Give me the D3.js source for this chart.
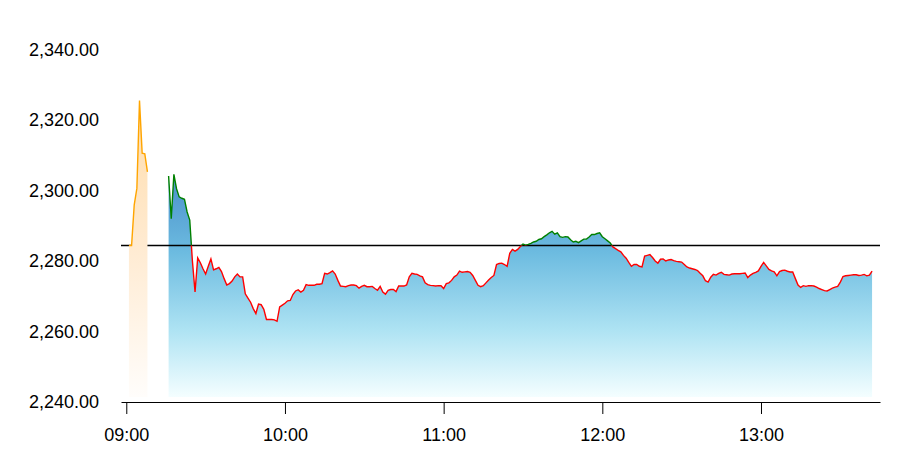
<!DOCTYPE html>
<html>
<head>
<meta charset="utf-8">
<script src="https://cdn.jsdelivr.net/npm/d3@7"></script>
<style>
  body { margin: 0; background: #fff; }
  svg { display: block; font-family: "Liberation Sans", Arial, sans-serif; }
</style>
</head>
<body>
<svg id="chart" width="897" height="457"></svg>
<script>
// previous close (horizontal reference line)
var prevClose = 2284.4;

// pre-open session, one price per minute starting 09:01
var preStart = "09:01";
var prePrices = [2284.4, 2284.4, 2295.9, 2300.6, 2325.5, 2310.6, 2310.4, 2305.3];

// regular session, one price per minute starting 09:16
var mainStart = "09:16";
var mainPrices = [
  2304.1, 2292.0, 2304.6, 2300.5, 2298.2, 2297.8, 2297.5, 2293.9, 2291.6, 2280.0,
  2271.2, 2280.9, 2279.5, 2277.8, 2276.3, 2278.5, 2280.6, 2277.5, 2277.8, 2278.2,
  2277.0, 2275.0, 2273.2, 2273.6, 2274.3, 2275.5, 2276.3, 2275.5, 2275.5, 2270.7,
  2269.5, 2268.3, 2266.5, 2265.1, 2267.8, 2267.6, 2266.3, 2263.4, 2263.4, 2263.4,
  2263.3, 2262.9, 2267.0, 2267.5, 2268.0, 2268.7, 2268.8, 2270.5, 2271.5, 2271.8,
  2271.2, 2271.7, 2273.3, 2273.1, 2273.1, 2273.1, 2273.4, 2273.4, 2273.6, 2276.5,
  2276.3, 2276.7, 2277.2, 2276.3, 2274.5, 2272.9, 2272.8, 2272.7, 2273.0, 2273.2,
  2273.2, 2273.0, 2272.3, 2272.8, 2273.1, 2272.7, 2272.7, 2272.8, 2272.2, 2271.7,
  2272.8, 2271.2, 2270.6, 2271.7, 2271.9, 2271.9, 2271.3, 2272.9, 2272.9, 2272.9,
  2273.2, 2275.5, 2276.5, 2276.3, 2276.2, 2275.8, 2275.5, 2273.8, 2273.3, 2273.1,
  2273.0, 2272.9, 2273.0, 2273.0, 2272.2, 2273.6, 2273.8, 2274.5, 2275.5, 2276.0,
  2277.1, 2276.8, 2276.9, 2277.0, 2276.8, 2275.9, 2274.5, 2273.1, 2272.7, 2273.0,
  2273.8, 2274.6, 2275.3, 2275.9, 2279.0, 2279.3, 2279.4, 2279.0, 2278.5, 2282.2,
  2283.3, 2282.8, 2283.3, 2284.1, 2284.8, 2284.5, 2284.7, 2285.0, 2285.4, 2285.6,
  2286.1, 2286.3, 2286.9, 2287.4, 2288.0, 2288.4, 2287.6, 2288.0, 2286.9, 2286.7,
  2286.9, 2286.8, 2286.0, 2285.4, 2285.6, 2285.2, 2285.7, 2286.2, 2286.2, 2286.8,
  2287.5, 2287.5, 2287.8, 2288.0, 2286.9, 2286.3, 2285.7, 2285.1, 2284.0, 2283.5,
  2283.0, 2282.6, 2281.6, 2280.8, 2279.6, 2278.5, 2279.0, 2279.0, 2278.5, 2278.3,
  2281.4, 2281.6, 2281.8, 2281.0, 2280.0, 2279.4, 2280.5, 2280.6, 2280.0, 2280.3,
  2280.4, 2280.1, 2279.9, 2279.8, 2279.7, 2279.0, 2278.3, 2278.0, 2277.8, 2277.6,
  2277.3, 2276.5, 2275.8, 2274.4, 2274.0, 2275.4, 2276.2, 2276.0, 2276.5, 2276.8,
  2276.2, 2276.1, 2276.0, 2276.3, 2276.4, 2276.4, 2276.4, 2276.5, 2276.6, 2275.3,
  2276.0, 2276.5, 2276.8, 2277.2, 2278.5, 2279.6, 2278.6, 2277.6, 2277.2, 2276.9,
  2275.8, 2277.0, 2277.3, 2277.4, 2277.1, 2276.9, 2276.9, 2275.0, 2273.2, 2272.5,
  2273.0, 2272.8, 2273.0, 2273.0, 2272.9, 2272.6, 2272.2, 2271.9, 2271.6, 2271.5,
  2271.9, 2272.3, 2272.6, 2272.8, 2274.0, 2275.6, 2275.8, 2275.9, 2276.0, 2276.1,
  2276.1, 2275.9, 2276.0, 2276.2, 2275.8, 2276.0, 2277.1
];

// axis settings
var xDomain = ["08:58", "13:45"];
var xTicks = ["09:00", "10:00", "11:00", "12:00", "13:00"];
var yDomain = [2240, 2340];
var yTicks = [2240, 2260, 2280, 2300, 2320, 2340];

var parseTime = d3.timeParse("%Y-%m-%d %H:%M");
function toDate(hm) { return parseTime("2024-01-01 " + hm); }

function series(start, prices) {
  var t0 = toDate(start);
  return prices.map(function(p, i) {
    return { t: d3.timeMinute.offset(t0, i), v: p };
  });
}

var preData = series(preStart, prePrices);
var mainData = series(mainStart, mainPrices);

var svg = d3.select("#chart");
var margin = { left: 121, right: 17, top: 49.5, bottom: 55 };
var width = +svg.attr("width"), height = +svg.attr("height");

var x = d3.scaleTime()
  .domain(xDomain.map(toDate))
  .range([margin.left, width - margin.right]);

var y = d3.scaleLinear()
  .domain(yDomain)
  .range([height - margin.bottom, margin.top]);

var fillBottom = y(yDomain[0]) - 5;

var defs = svg.append("defs");

var blueGrad = defs.append("linearGradient")
  .attr("id", "blueFill")
  .attr("gradientUnits", "userSpaceOnUse")
  .attr("x1", 0).attr("x2", 0)
  .attr("y1", y(d3.max(mainPrices))).attr("y2", fillBottom);
blueGrad.append("stop").attr("offset", 0).attr("stop-color", "#4a8fca");
blueGrad.append("stop").attr("offset", 0.35).attr("stop-color", "#6cbbe0");
blueGrad.append("stop").attr("offset", 0.7).attr("stop-color", "#aee3f3");
blueGrad.append("stop").attr("offset", 1).attr("stop-color", "#f4feff");

var orangeGrad = defs.append("linearGradient")
  .attr("id", "orangeFill")
  .attr("gradientUnits", "userSpaceOnUse")
  .attr("x1", 0).attr("x2", 0)
  .attr("y1", y(d3.max(prePrices))).attr("y2", fillBottom);
orangeGrad.append("stop").attr("offset", 0).attr("stop-color", "#ffdcaa");
orangeGrad.append("stop").attr("offset", 0.5).attr("stop-color", "#ffebd2");
orangeGrad.append("stop").attr("offset", 1).attr("stop-color", "#fffdfb");

// clip regions above / below previous close
defs.append("clipPath").attr("id", "aboveClip")
  .append("rect")
  .attr("x", 0).attr("y", 0)
  .attr("width", width).attr("height", y(prevClose));
defs.append("clipPath").attr("id", "belowClip")
  .append("rect")
  .attr("x", 0).attr("y", y(prevClose))
  .attr("width", width).attr("height", height - y(prevClose));

var area = d3.area()
  .x(function(d) { return x(d.t); })
  .y0(fillBottom)
  .y1(function(d) { return y(d.v); });

var line = d3.line()
  .x(function(d) { return x(d.t); })
  .y(function(d) { return y(d.v); });

// main session area
svg.append("path")
  .datum(mainData)
  .attr("fill", "url(#blueFill)")
  .attr("d", area);

// previous close line
svg.append("line")
  .attr("x1", x.range()[0]).attr("x2", x.range()[1])
  .attr("y1", y(prevClose)).attr("y2", y(prevClose))
  .attr("stroke", "#000")
  .attr("stroke-width", 1.5);

// main session line, green above / red below
svg.append("path")
  .datum(mainData)
  .attr("clip-path", "url(#aboveClip)")
  .attr("fill", "none")
  .attr("stroke", "#008000")
  .attr("stroke-width", 1.4)
  .attr("d", line);
svg.append("path")
  .datum(mainData)
  .attr("clip-path", "url(#belowClip)")
  .attr("fill", "none")
  .attr("stroke", "#ff0000")
  .attr("stroke-width", 1.4)
  .attr("d", line);

// pre-open area and line
svg.append("path")
  .datum(preData)
  .attr("fill", "url(#orangeFill)")
  .attr("d", area);
svg.append("path")
  .datum(preData)
  .attr("fill", "none")
  .attr("stroke", "#ffa500")
  .attr("stroke-width", 1.4)
  .attr("d", line);

// axes
var xAxis = svg.append("g")
  .attr("transform", "translate(0," + y(yDomain[0]) + ")")
  .call(d3.axisBottom(x)
    .tickValues(xTicks.map(toDate))
    .tickFormat(d3.timeFormat("%H:%M"))
    .tickSize(12)
    .tickSizeOuter(0)
    .tickPadding(14));
xAxis.selectAll("text").style("font-size", "18px").attr("fill", "#000");
xAxis.select(".domain").attr("stroke", "#000");

var yAxis = svg.append("g")
  .attr("transform", "translate(" + margin.left + ",0)")
  .call(d3.axisLeft(y)
    .tickValues(yTicks)
    .tickFormat(d3.format(",.2f"))
    .tickSize(0)
    .tickPadding(22));
yAxis.select(".domain").remove();
yAxis.selectAll("text").style("font-size", "18px").attr("fill", "#000");
</script>
</body>
</html>
